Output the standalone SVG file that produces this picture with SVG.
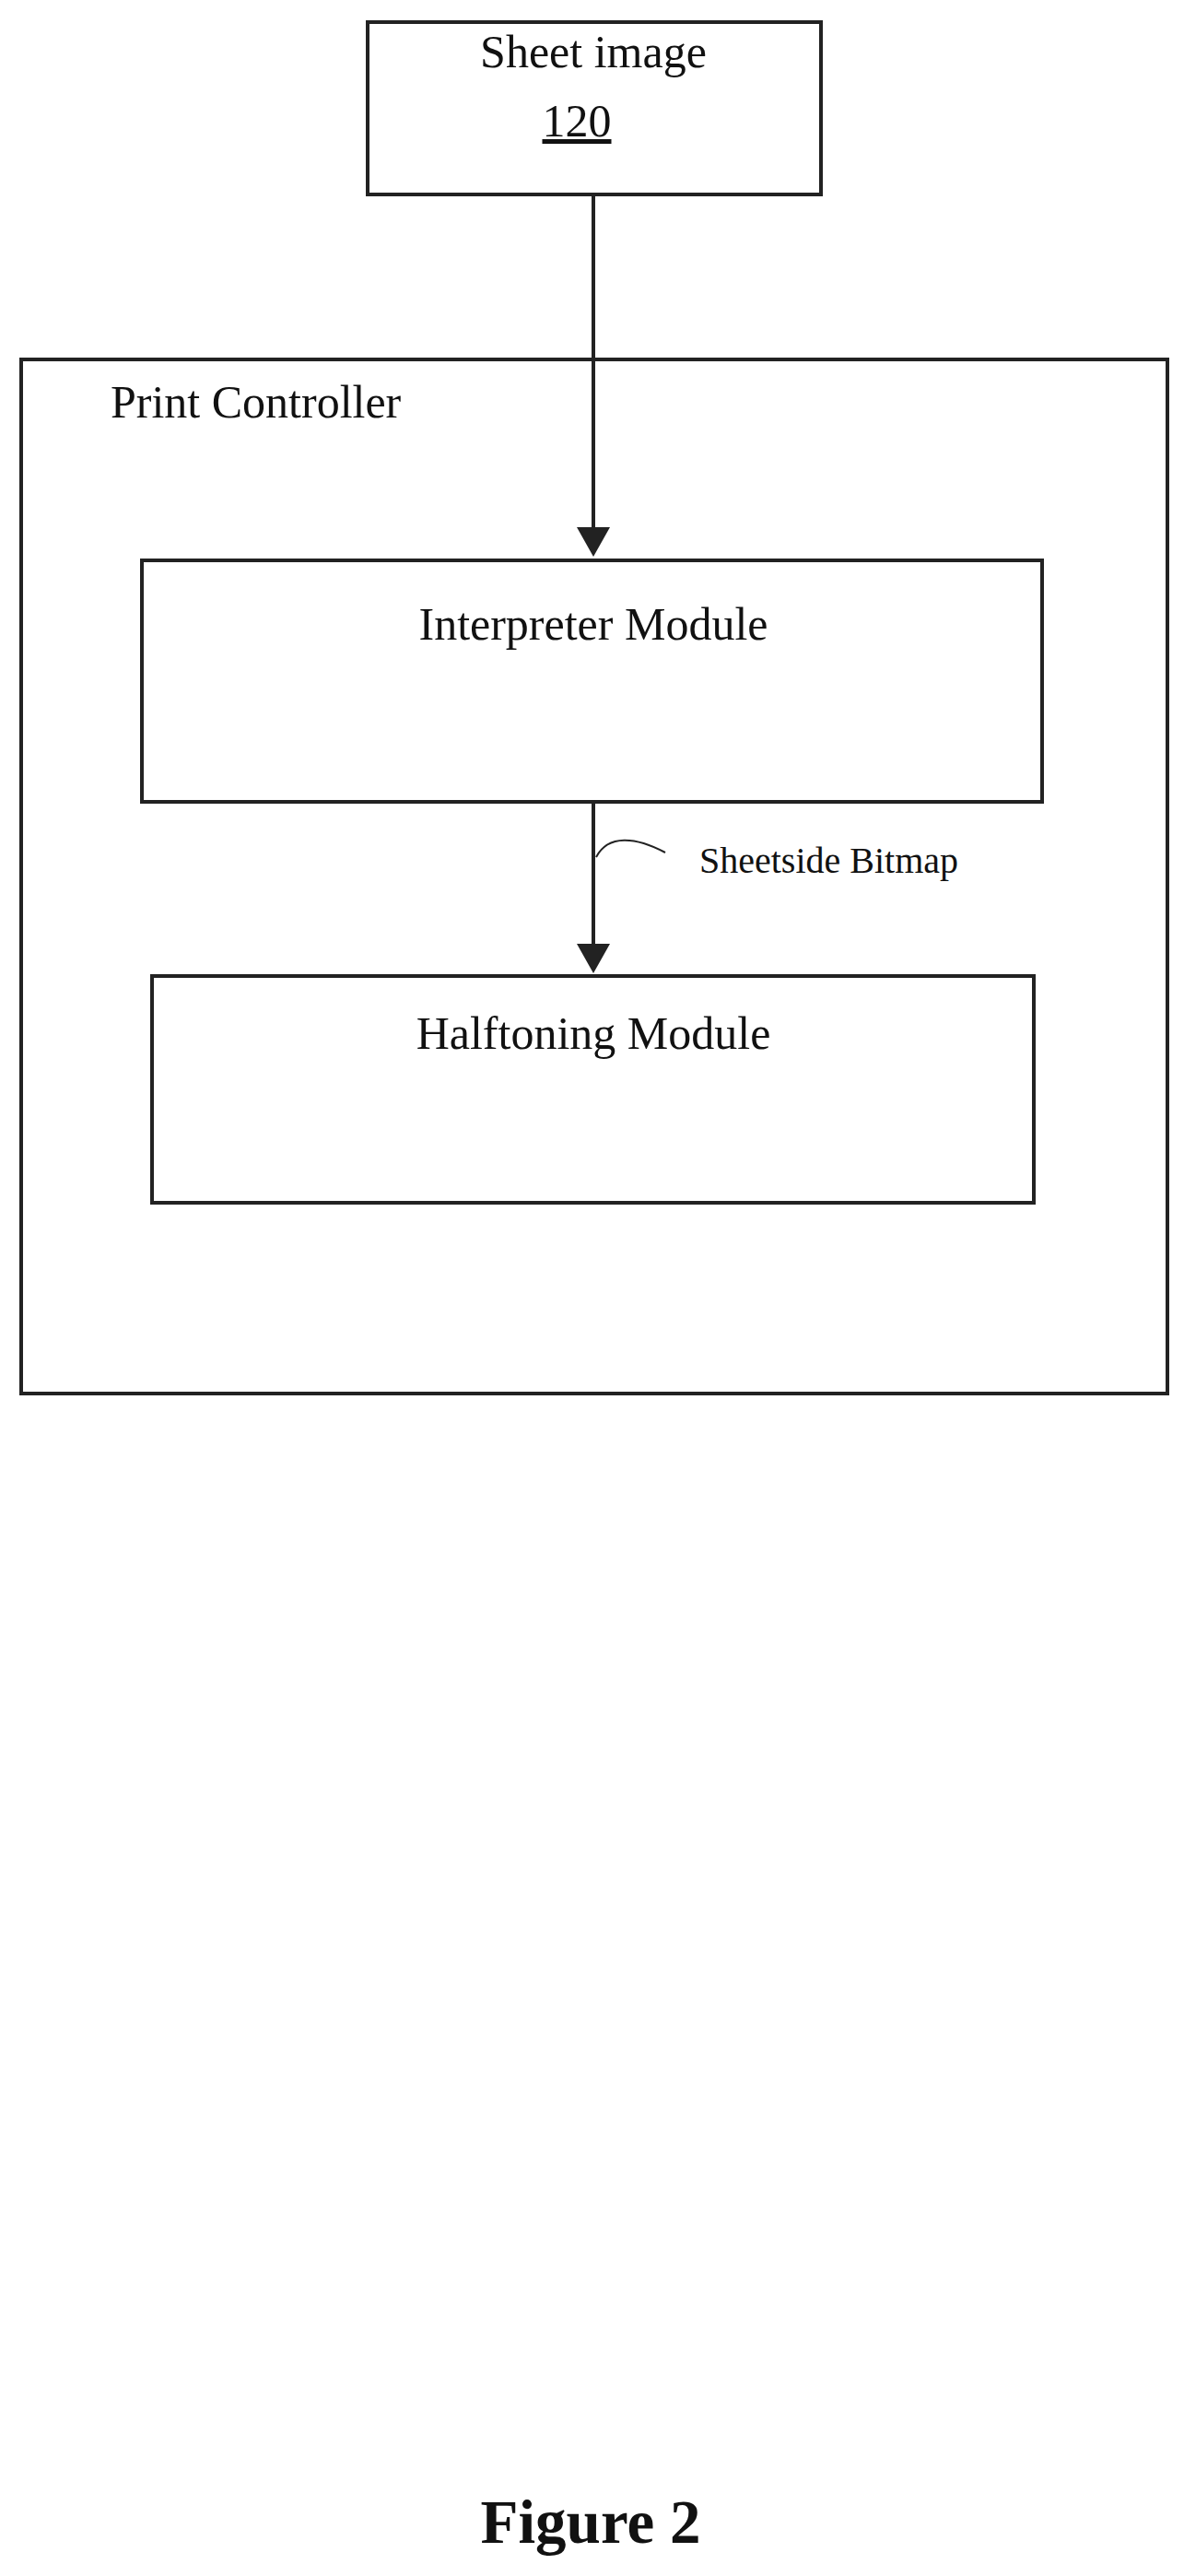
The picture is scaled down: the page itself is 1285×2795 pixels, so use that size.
<svg xmlns="http://www.w3.org/2000/svg" width="1285" height="2795" viewBox="0 0 1285 2795">
<style>
.b{fill:none;stroke:#222;stroke-width:4}
.t{font-family:"Liberation Serif",serif;font-size:50px;fill:#111}
.c{stroke:#222;stroke-width:4;fill:none}
</style>
<defs><marker id="a" markerWidth="8" markerHeight="9" refX="7" refY="4.5" orient="auto" markerUnits="strokeWidth"><path d="M0,0 L8,4.5 L0,9 Z" fill="#222"/></marker></defs>
<rect width="1285" height="2795" fill="#fff"/>
<g id="sheet"><rect class="b" x="399" y="24" width="492" height="187"/>
<text class="t" x="644" y="73" text-anchor="middle">Sheet image</text>
<text class="t" x="626" y="148" text-anchor="middle" text-decoration="underline">120</text></g>
<g id="controller"><rect class="b" x="23" y="390" width="1244" height="1122"/>
<text class="t" x="120" y="453">Print Controller</text></g>
<g id="interpreter"><rect class="b" x="154" y="608" width="977" height="262"/>
<text class="t" x="644" y="694" text-anchor="middle">Interpreter Module</text></g>
<g id="halftoning"><rect class="b" x="165" y="1059" width="957" height="246"/>
<text class="t" x="644" y="1138" text-anchor="middle">Halftoning Module</text></g>
<g id="connectors">
<line class="c" x1="644" y1="211" x2="644" y2="600" marker-end="url(#a)"/>
<line class="c" x1="644" y1="870" x2="644" y2="1052" marker-end="url(#a)"/>
<path d="M647,930 C660,905 690,908 722,925" fill="none" stroke="#222" stroke-width="2"/>
<text x="759" y="947" style="font-family:'Liberation Serif',serif;font-size:40px;fill:#111">Sheetside Bitmap</text>
</g>
<text x="641" y="2759" text-anchor="middle" style="font-family:'Liberation Serif',serif;font-size:67px;font-weight:bold;fill:#111">Figure 2</text>
</svg>
